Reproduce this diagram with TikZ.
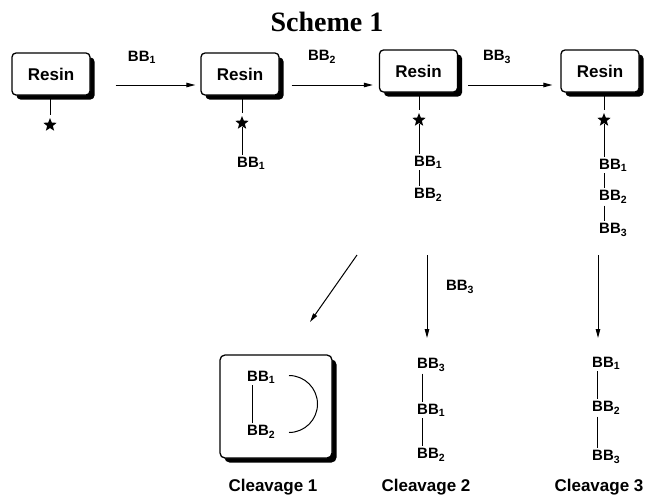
\documentclass[tikz,border=0pt]{standalone}
\usepackage{fontspec}
\setmainfont{Liberation Sans}
\newfontfamily\titlefont{Liberation Serif}
\usetikzlibrary{shadows,arrows.meta,shapes.geometric}
\begin{document}
\begin{tikzpicture}[x=1pt,y=-1pt,
  resin/.style={draw, line width=1.3pt, rounded corners=4pt, fill=white,
    minimum width=78pt, minimum height=42pt, inner sep=0pt,
    font=\fontsize{17}{20}\selectfont\bfseries,
    drop shadow={shadow xshift=4.5pt, shadow yshift=-4.5pt, fill=black, opacity=1}},
  bigbox/.style={draw, line width=1.3pt, rounded corners=5pt, fill=white,
    minimum width=112pt, minimum height=103pt, inner sep=0pt,
    drop shadow={shadow xshift=4.5pt, shadow yshift=-4.5pt, fill=black, opacity=1}},
  bb/.style={anchor=west, inner xsep=0pt, inner ysep=2pt,
    font=\fontsize{15}{18}\selectfont\bfseries},
  lbl/.style={inner sep=0pt, font=\fontsize{15}{18}\selectfont\bfseries},
  captxt/.style={inner sep=0pt, font=\fontsize{17}{20}\selectfont\bfseries},
  starnode/.style={star, star points=5, star point ratio=2.3, fill=black,
    minimum size=14pt, inner sep=0pt, outer sep=1pt},
  link/.style={line width=1pt},
  arr/.style={line width=1pt, -{Triangle[length=9pt,width=4.5pt]}}
]
\useasboundingbox (0,0) rectangle (646,496);

\node[font=\fontsize{28}{32}\selectfont\titlefont\bfseries] (title) at (327,22) {Scheme 1};

% resin boxes
\node[resin] (r1) at (51,74) {Resin};
\node[resin] (r2) at (240,74) {Resin};
\node[resin] (r3) at (418.5,71) {Resin};
\node[resin] (r4) at (600,71) {Resin};

% line x positions
\coordinate (x1) at (50,0);
\coordinate (x2) at (242,0);
\coordinate (x3) at (419,0);
\coordinate (x4) at (604,0);

% stars
\node[starnode] (s1) at (50,125) {};
\node[starnode] (s2) at (242,123) {};
\node[starnode] (s3) at (419,120) {};
\node[starnode] (s4) at (604,120) {};

% chains on resin
\node[bb] (b21) at (237,163) {BB\textsubscript{1}};
\node[bb] (b31) at (414,162) {BB\textsubscript{1}};
\node[bb] (b32) at (414,195) {BB\textsubscript{2}};
\node[bb] (b41) at (599,165) {BB\textsubscript{1}};
\node[bb] (b42) at (599,197) {BB\textsubscript{2}};
\node[bb] (b43) at (599,230) {BB\textsubscript{3}};

\draw[link] (r1.south -| x1) -- (s1.north);
\draw[link] (r2.south -| x2) -- (s2.north);
\draw[link] (s2.south) -- (b21.north -| x2);
\draw[link] (r3.south -| x3) -- (s3.north);
\draw[link] (s3.south) -- (b31.north -| x3);
\draw[link] (b31.south -| x3) -- (b32.north -| x3);
\draw[link] (r4.south -| x4) -- (s4.north);
\draw[link] (s4.south) -- (b41.north -| x4);
\draw[link] (b41.south -| x4) -- (b42.north -| x4);
\draw[link] (b42.south -| x4) -- (b43.north -| x4);

% horizontal arrows
\draw[arr] ([yshift=-11pt,xshift=25pt]r1.east) -- ([yshift=-11pt,xshift=-5pt]r2.west);
\draw[arr] ([yshift=-11pt,xshift=12pt]r2.east) -- ([yshift=-14pt,xshift=-6pt]r3.west);
\draw[arr] ([yshift=-14pt,xshift=10pt]r3.east) -- ([yshift=-14pt,xshift=-8pt]r4.west);
\node[lbl] (l1) at (142,57) {BB\textsubscript{1}};
\node[lbl] (l2) at (322,57) {BB\textsubscript{2}};
\node[lbl] (l3) at (497,57) {BB\textsubscript{3}};

% downward arrows
\coordinate (d1s) at (357,255);
\coordinate (d1e) at (310,322);
\coordinate (d2s) at (427,255);
\coordinate (d2e) at (427,338);
\coordinate (d3s) at (598,255);
\coordinate (d3e) at (598,338);
\draw[arr] (d1s) -- (d1e);
\draw[arr] (d2s) -- (d2e);
\draw[arr] (d3s) -- (d3e);
\node[lbl] (l4) at (460,287) {BB\textsubscript{3}};

% cleavage 1
\node[bigbox] (c1) at (276,406.5) {};
\node[bb] (c11) at (247,377) {BB\textsubscript{1}};
\node[bb] (c12) at (247,432) {BB\textsubscript{2}};
\coordinate (xc1) at (252,0);
\draw[link] (c11.south -| xc1) -- (c12.north -| xc1);
\coordinate (arcs) at (289,375.5);
\draw[link] (arcs) arc[start angle=-90, end angle=90, radius=28.5];

% cleavage 2
\coordinate (xc2) at (422,0);
\node[bb] (c21) at (417,365) {BB\textsubscript{3}};
\node[bb] (c22) at (417,410) {BB\textsubscript{1}};
\node[bb] (c23) at (417,455) {BB\textsubscript{2}};
\draw[link] (c21.south -| xc2) -- (c22.north -| xc2);
\draw[link] (c22.south -| xc2) -- (c23.north -| xc2);

% cleavage 3
\coordinate (xc3) at (597,0);
\node[bb] (c31) at (592,363) {BB\textsubscript{1}};
\node[bb] (c32) at (592,408) {BB\textsubscript{2}};
\node[bb] (c33) at (592,457) {BB\textsubscript{3}};
\draw[link] (c31.south -| xc3) -- (c32.north -| xc3);
\draw[link] (c32.south -| xc3) -- (c33.north -| xc3);

\node[captxt] (k1) at (273,487) {Cleavage 1};
\node[captxt] (k2) at (426,487) {Cleavage 2};
\node[captxt] (k3) at (599,487) {Cleavage 3};
\end{tikzpicture}
\end{document}
